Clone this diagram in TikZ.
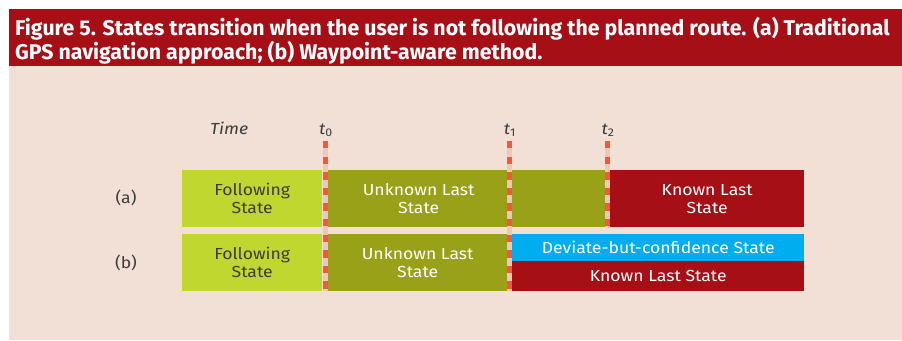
\documentclass[tikz,border=0pt]{standalone}
\usepackage{fontspec}
\setmainfont{Fira Sans}
\newfontfamily\captionfont{Fira Sans}
\newfontfamily\bodyfont[FakeStretch=1.1]{Fira Sans}
\usetikzlibrary{positioning}

\definecolor{barred}{HTML}{A60F16}
\definecolor{panelbg}{HTML}{F2DFD6}
\definecolor{followgreen}{HTML}{C0D72F}
\definecolor{unknownolive}{HTML}{98A118}
\definecolor{deviateblue}{HTML}{00AEEF}
\definecolor{dashred}{HTML}{F2583B}
\definecolor{dashpale}{HTML}{EBC8BA}
\definecolor{darktext}{HTML}{3C3C3C}

\begin{document}
\begin{tikzpicture}[
        x=1pt, y=-1pt,
        every node/.style={inner sep=0pt},
        section/.style={rectangle, anchor=north west, align=center, text=white, font=\bodyfont\fontsize{16}{18}\selectfont},
        label/.style={text=darktext, font=\bodyfont\fontsize{16}{18}\selectfont},
        timeline/.style={draw=dashpale, line width=5pt, postaction={draw=dashred, line width=5pt, dash pattern=on 7.3pt off 8.3pt}}
    ]
    \useasboundingbox (0,0) rectangle (902,340);

    % Rahmen und Titel
    \node[fill=panelbg, anchor=north west, minimum width=893pt, minimum height=331pt] (window) at (9,9) {};
    \node[fill=barred, anchor=north west, minimum width=893pt, minimum height=57pt] (title) at (9,9) {};
    \node[anchor=north west, text=white, align=left, font=\captionfont\bfseries\fontsize{21.3}{24}\selectfont] (caption) at (15,17)
        {Figure 5. States transition when the user is not following the planned route. (a) Traditional\\GPS navigation approach; (b) Waypoint-aware method.};

    % Zeitachse
    \node[label, font=\bodyfont\itshape\fontsize{16}{18}\selectfont, anchor=base west] (time) at (210,134) {Time};
    \node[label, anchor=base] (t0) at (326,134) {\itshape t\textsubscript{\upshape 0}};
    \node[label, anchor=base] (t1) at (510,134) {\itshape t\textsubscript{\upshape 1}};
    \node[label, anchor=base] (t2) at (608,134) {\itshape t\textsubscript{\upshape 2}};

    % Zeilen (a) und (b)
    \node[label] (row_a) at (126,198) {(a)};
    \node[label] (row_b) at (126,263) {(b)};

    % (a) Klassischer Ansatz
    \node[section, fill=followgreen, text=darktext, minimum width=140pt, minimum height=57pt] (follow_a) at (182,170) {Following\\State};
    \node[section, fill=unknownolive, minimum width=181pt, minimum height=57pt] (unknown_a) at (328,170) {Unknown Last\\State};
    \node[section, fill=unknownolive, minimum width=98pt, minimum height=57pt] (unknown_a2) at (509,170) {};
    \node[section, fill=barred, minimum width=194pt, minimum height=57pt] (known_a) at (610,170) {Known Last\\State};

    % (b) Waypoint-Ansatz
    \node[section, fill=followgreen, text=darktext, minimum width=140pt, minimum height=57pt] (follow_b) at (182,234) {Following\\State};
    \node[section, fill=unknownolive, minimum width=179pt, minimum height=57pt] (unknown_b) at (328,234) {Unknown Last\\State};
    \node[section, fill=deviateblue, minimum width=292pt, minimum height=27pt] (deviate_b) at (512,234) {Deviate-but-confidence State};
    \node[section, fill=barred, minimum width=292pt, minimum height=30pt] (known_b) at (512,261) {Known Last State};

    % Zeitpunkte
    \coordinate (t0_top) at (325,141);
    \coordinate (t0_bot) at (325,291);
    \coordinate (t1_top) at (509.5,141);
    \coordinate (t1_bot) at (509.5,291);
    \coordinate (t2_top) at (607.5,141);
    \coordinate (t2_bot) at (607.5,227);
    \draw[timeline] (t0_top) -- (t0_bot);
    \draw[timeline] (t1_top) -- (t1_bot);
    \draw[timeline] (t2_top) -- (t2_bot);

\end{tikzpicture}
\end{document}
